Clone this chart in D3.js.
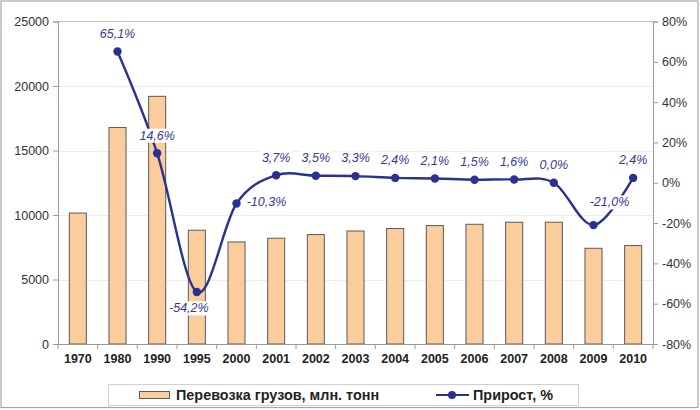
<!DOCTYPE html>
<html><head><meta charset="utf-8">
<script src="https://cdn.jsdelivr.net/npm/d3@7"></script>
<style>body{margin:0;background:#fff}svg{display:block;font-family:Arial,"Liberation Sans",sans-serif}</style>
</head><body><svg id="c" width="700" height="410"></svg>
<script>
const years = ["1970","1980","1990","1995","2000","2001","2002","2003","2004","2005","2006","2007","2008","2009","2010"];
const cargo = [10150,16780,19200,8820,7910,8200,8480,8760,8950,9180,9280,9440,9440,7420,7630];
const growth = [null,65.1,14.6,-54.2,-10.3,3.7,3.5,3.3,2.4,2.1,1.5,1.6,0.0,-21.0,2.4];
const growthLabels = [null,"65,1%","14,6%","-54,2%","-10,3%","3,7%","3,5%","3,3%","2,4%","2,1%","1,5%","1,6%","0,0%","-21,0%","2,4%"];
const leftTicks = [0,5000,10000,15000,20000,25000];
const rightTicks = [-80,-60,-40,-20,0,20,40,60,80];
const legendNames = ["Перевозка грузов, млн. тонн","Прирост, %"];

const svg = d3.select("#c");
const L = 58, R = 653, T = 21.5, B = 344;
const BAR = "#fbcd9c", LINE = "#2b3190", LBL = "#353a93", AX = "#9a9a9a";

svg.append("rect").attr("x",1).attr("y",1).attr("width",697).attr("height",406.5)
  .attr("fill","#fff").attr("stroke","#a6a6a6").attr("stroke-width",1.2);

const x = d3.scaleBand().domain(years).range([L,R]).paddingInner(0.57).paddingOuter(0.285);
const y = d3.scaleLinear().domain([0,25000]).range([B,T]);
const y2 = d3.scaleLinear().domain([-80,80]).range([B,T]);

// gridlines
svg.append("g").selectAll("line").data(leftTicks.filter(d=>d>0 && d<25000)).join("line")
  .attr("x1",L).attr("x2",R).attr("y1",d=>Math.round(y(d))+0.5).attr("y2",d=>Math.round(y(d))+0.5)
  .attr("stroke","#ececec");
// plot top border
svg.append("line").attr("x1",L).attr("x2",R).attr("y1",T).attr("y2",T).attr("stroke","#c0c0c0");

// bars
svg.append("g").selectAll("rect").data(years).join("rect")
  .attr("x",d=>x(d)).attr("width",x.bandwidth())
  .attr("y",(d,i)=>y(cargo[i])).attr("height",(d,i)=>B-y(cargo[i]))
  .attr("fill",BAR).attr("stroke","#5a5a5a").attr("stroke-width",1);

// axes
const gl = svg.append("g").attr("transform",`translate(${L},0)`)
  .call(d3.axisLeft(y).tickValues(leftTicks).tickSize(5).tickPadding(4).tickFormat(d3.format("d")));
const gr = svg.append("g").attr("transform",`translate(${R},0)`)
  .call(d3.axisRight(y2).tickValues(rightTicks).tickSize(5).tickPadding(4).tickFormat(d=>d+"%"));
const gb = svg.append("g").attr("transform",`translate(0,${B})`)
  .call(d3.axisBottom(x).tickSize(0).tickPadding(10));
// bottom ticks at band boundaries
const step = x.step();
svg.append("g").selectAll("line").data(d3.range(years.length+1)).join("line")
  .attr("x1",i=>L+i*step).attr("x2",i=>L+i*step).attr("y1",B).attr("y2",B+5).attr("stroke",AX);
[gl,gr,gb].forEach(g=>{
  g.select(".domain").attr("stroke",AX);
  g.selectAll(".tick line").attr("stroke",AX);
  g.selectAll("text").attr("fill","#333").attr("font-size",12.5).attr("font-family","Arial, 'Liberation Sans', sans-serif");
});
gb.select(".domain").attr("d",`M${L},0.5H${R}`);
gb.selectAll("text").attr("font-weight","bold").attr("fill","#222").attr("font-size",12.5);

// line
const pts = years.map((d,i)=>({yr:d,v:growth[i],lab:growthLabels[i]})).filter(p=>p.v!==null);
const cx = d=>x(d.yr)+x.bandwidth()/2;
svg.append("path").datum(pts)
  .attr("d",d3.line().x(cx).y(d=>y2(d.v)).curve(d3.curveCatmullRom.alpha(0)))
  .attr("fill","none").attr("stroke",LINE).attr("stroke-width",2.4);
svg.append("g").selectAll("circle").data(pts).join("circle")
  .attr("cx",cx).attr("cy",d=>y2(d.v)).attr("r",4.2).attr("fill",LINE);

// labels
const offs = {"1995":[-8,16],"2000":[30,-2],"2009":[16,-23]};
const lg = svg.append("g");
pts.forEach(p=>{
  const o = offs[p.yr] || [0,-18];
  const tx = cx(p)+o[0], ty = y2(p.v)+o[1];
  const t = lg.append("text").attr("x",tx).attr("y",ty).attr("dy","0.35em")
    .attr("text-anchor","middle").attr("font-style","italic").attr("font-size",12.5)
    .attr("fill",LBL).text(p.lab);
  const bb = t.node().getBBox();
  lg.insert("rect","text").attr("x",bb.x-2).attr("y",bb.y).attr("width",bb.width+4).attr("height",bb.height).attr("fill","#fff");
  t.raise();
});

// legend
svg.append("rect").attr("x",108.5).attr("y",384.5).attr("width",470).attr("height",21)
  .attr("fill","#fff").attr("stroke","#d0d0d0");
svg.append("rect").attr("x",139.5).attr("y",391.5).attr("width",30).attr("height",7)
  .attr("fill",BAR).attr("stroke","#5a5a5a");
svg.append("text").attr("x",176).attr("y",395).attr("dy","0.35em").attr("font-size",14.4).attr("font-weight","bold")
  .attr("fill","#222").text(legendNames[0]);
svg.append("line").attr("x1",436).attr("x2",469).attr("y1",395).attr("y2",395).attr("stroke",LINE).attr("stroke-width",2);
svg.append("circle").attr("cx",452).attr("cy",395).attr("r",4).attr("fill",LINE);
svg.append("text").attr("x",473).attr("y",395).attr("dy","0.35em").attr("font-size",14.4).attr("font-weight","bold")
  .attr("fill","#222").text(legendNames[1]);
</script></body></html>
